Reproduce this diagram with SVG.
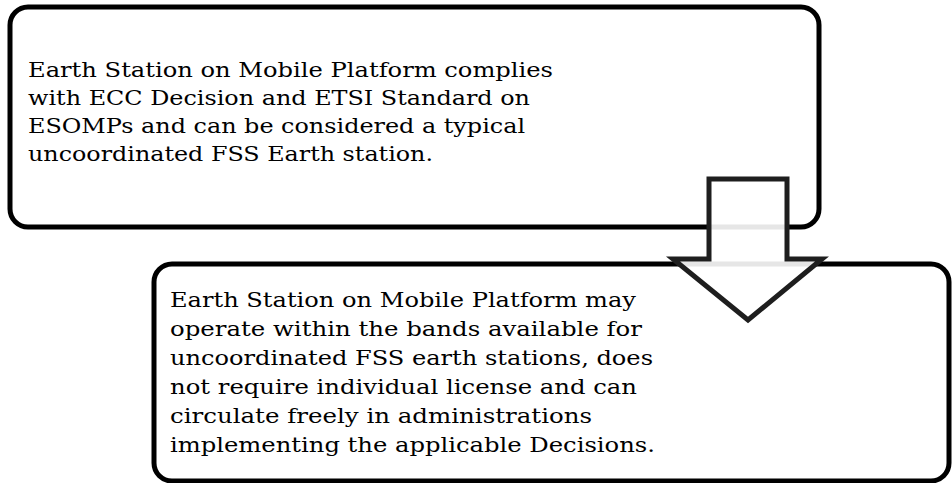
<svg xmlns="http://www.w3.org/2000/svg" width="952" height="483" viewBox="0 0 952 483">
<style>
.box{fill:#fff;stroke:#000;stroke-width:5}
.t{font-family:"DejaVu Serif","Liberation Serif",serif;font-size:21px;fill:#000}
.arrow{fill:#fff;fill-opacity:0.9;stroke:#1e1e1e;stroke-width:5;stroke-linejoin:miter}
</style>
<rect width="952" height="483" fill="#fff"/>
<g id="node-top">
<rect class="box" x="10" y="7" width="809" height="220" rx="18"/>
<g transform="translate(28 0) scale(1.15 1)">
<text class="t" x="0" y="77" textLength="456.5" lengthAdjust="spacingAndGlyphs">Earth Station on Mobile Platform complies</text>
<text class="t" x="0" y="105" textLength="436.5" lengthAdjust="spacingAndGlyphs">with ECC Decision and ETSI Standard on</text>
<text class="t" x="0" y="133" textLength="432.2" lengthAdjust="spacingAndGlyphs">ESOMPs and can be considered a typical</text>
<text class="t" x="0" y="161" textLength="352.2" lengthAdjust="spacingAndGlyphs">uncoordinated FSS Earth station.</text>
</g>
</g>
<g id="node-bottom">
<rect class="box" x="154" y="264" width="795" height="217" rx="18"/>
<g transform="translate(170 0) scale(1.15 1)">
<text class="t" x="0" y="307" textLength="405.2" lengthAdjust="spacingAndGlyphs">Earth Station on Mobile Platform may</text>
<text class="t" x="0" y="336" textLength="410.4" lengthAdjust="spacingAndGlyphs">operate within the bands available for</text>
<text class="t" x="0" y="365" textLength="420" lengthAdjust="spacingAndGlyphs">uncoordinated FSS earth stations, does</text>
<text class="t" x="0" y="394" textLength="406.1" lengthAdjust="spacingAndGlyphs">not require individual license and can</text>
<text class="t" x="0" y="423" textLength="367" lengthAdjust="spacingAndGlyphs">circulate freely in administrations</text>
<text class="t" x="0" y="452" textLength="421.7" lengthAdjust="spacingAndGlyphs">implementing the applicable Decisions.</text>
</g>
</g>
<g id="connectors">
<path class="arrow" d="M709 179 H787 V259 H822 L748 320 L673 259 H709 Z"/>
</g>
</svg>
